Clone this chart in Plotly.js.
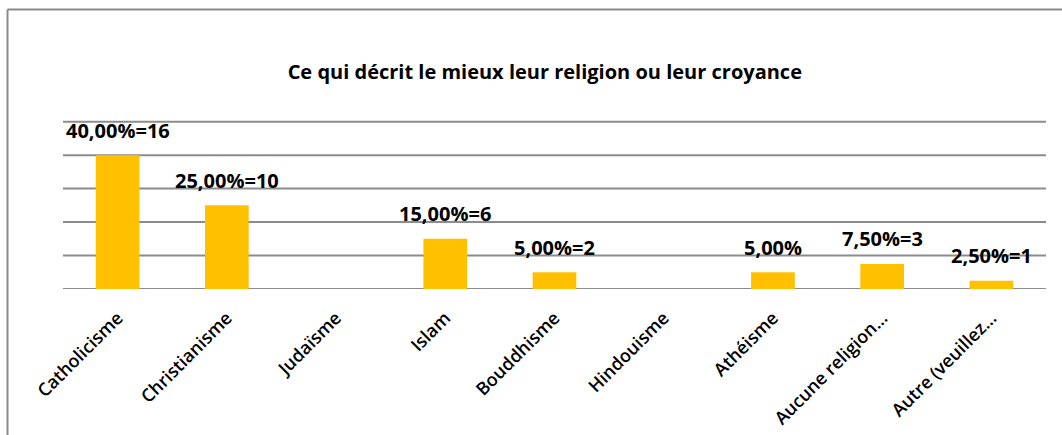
<!DOCTYPE html>
<html>
<head>
<meta charset="utf-8">
<script src="https://cdn.plot.ly/plotly-3.0.1.min.js"></script>
<style>
  html, body { margin: 0; padding: 0; background: #ffffff; }
  #chart { width: 1062px; height: 435px; }
</style>
</head>
<body>
<div id="chart"></div>
<script>
// Data
const categories = ["Catholicisme", "Christianisme", "Judaïsme", "Islam", "Bouddhisme", "Hindouisme", "Athéisme", "Aucune religion…", "Autre (veuillez…"];
const percentages = [40, 25, 0, 15, 5, 0, 5, 7.5, 2.5];
const valueLabels = ["40,00%=16", "25,00%=10", "", "15,00%=6", "5,00%=2", "", "5,00%", "7,50%=3", "2,50%=1"];
const gridValues = [0, 10, 20, 30, 40, 50];
const chartTitle = "Ce qui décrit le mieux leur religion ou leur croyance";

const FONT = "Open Sans, Noto Sans, DejaVu Sans, sans-serif";
const GRID = "#8c8c8c";

const trace = {
  type: "bar",
  x: categories,
  y: percentages,
  marker: { color: "#FFC000" },
  hoverinfo: "skip"
};

const annotations = categories.map((c, i) => ({
  x: c,
  y: percentages[i],
  xref: "x",
  yref: "y",
  text: valueLabels[i],
  showarrow: false,
  xanchor: "center",
  yanchor: "middle",
  yshift: 25,
  font: { family: FONT, size: 20, color: "#000000", weight: 700 }
})).filter(a => a.text !== "");

// plot area: value 0 at y=289px, value 50 at y=122px
const yMax = 52;
const plotH = 167 * yMax / 50;
const topMargin = 289 - plotH;

// gridlines drawn as shapes on the y axis so every one is sure to appear
const gridShapes = gridValues.map(v => ({
  type: "line", xref: "paper", yref: "y", x0: 0, x1: 1, y0: v, y1: v,
  layer: "below", line: { color: GRID, width: 2 }
}));

const layout = {
  width: 1062,
  height: 435,
  margin: { l: 63, r: 16, t: topMargin, b: 146 },
  paper_bgcolor: "#ffffff",
  plot_bgcolor: "#ffffff",
  showlegend: false,
  bargap: 0.6,
  title: {
    text: chartTitle,
    font: { family: FONT, size: 20, color: "#000000", weight: 700 },
    x: 0.513,
    xanchor: "center",
    y: 0.835,
    yanchor: "middle"
  },
  xaxis: {
    type: "category",
    tickangle: -45,
    tickfont: { family: FONT, size: 18, color: "#000000", weight: 600 },
    showline: false,
    showgrid: false,
    ticks: "",
    ticklabelstandoff: 14
  },
  yaxis: {
    range: [0, yMax],
    tickvals: gridValues,
    showgrid: false,
    zeroline: false,
    showticklabels: false,
    ticks: "",
    fixedrange: true
  },
  annotations: annotations,
  shapes: gridShapes.concat([
    { type: "line", xref: "paper", yref: "paper", x0: (7.5 - 63) / 983, x1: (7.5 - 63) / 983, y0: -2, y1: (289 - 10) / plotH, line: { color: "#8a8a8a", width: 2 } },
    { type: "line", xref: "paper", yref: "paper", x0: (7.5 - 63) / 983, x1: 1.2, y0: (289 - 10) / plotH, y1: (289 - 10) / plotH, line: { color: "#8a8a8a", width: 2 } }
  ])
};

Plotly.newPlot("chart", [trace], layout, { displayModeBar: false, staticPlot: true }).then(() => {
  document.body.setAttribute("data-rendered", "1");
});
</script>
</body>
</html>
